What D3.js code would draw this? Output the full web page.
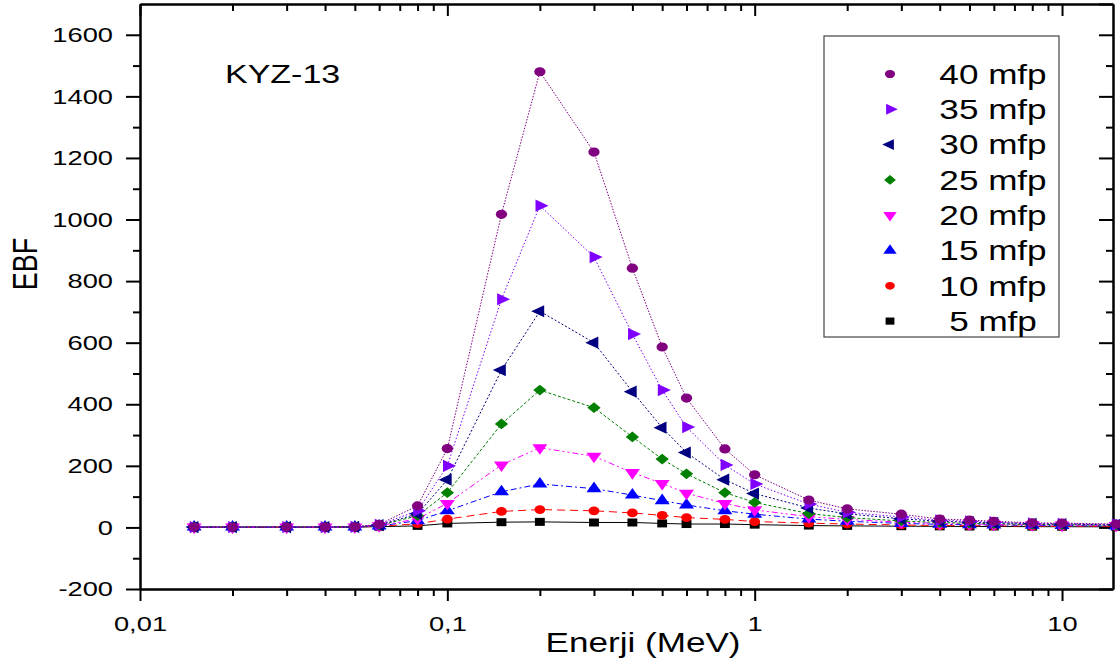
<!doctype html>
<html lang="en">
<head>
<meta charset="UTF-8">
<title>KYZ-13 EBF</title>
<script src="https://cdn.jsdelivr.net/npm/d3@7"></script>
<style>
  body { margin: 0; background: #fff; }
  text { font-family: "Liberation Sans", Arial, sans-serif; fill: #000; }
</style>
</head>
<body>
<svg width="1120" height="668"></svg>
<script>
// energies (MeV)
const energies = [0.015, 0.02, 0.03, 0.04, 0.05, 0.06, 0.08, 0.1, 0.15, 0.2, 0.3, 0.4, 0.5, 0.6, 0.8, 1, 1.5, 2, 3, 4, 5, 6, 8, 10, 15];

// EBF values per penetration depth
const ebf5  = [1, 1, 1, 1, 1.2, 2.5, 5, 13, 17, 18, 16, 16, 13, 11, 11, 9, 6, 5, 4, 3.5, 3, 3, 2.5, 2.2, 2];
const ebf10 = [1, 1, 1, 1, 1.3, 3.5, 12, 27, 52, 58, 54, 47, 39, 32, 26, 19, 14, 11, 8, 6, 5.5, 5, 4.5, 4, 3.5];
const ebf15 = [1, 1, 1, 1, 1.4, 4.5, 22, 54, 116, 141, 126, 105, 87, 73, 54, 43, 27, 20, 13, 10, 9, 8, 7, 6, 5];
const ebf20 = [1, 1, 1, 1, 1.5, 5.5, 28, 78, 203, 259, 231, 178, 143, 111, 78, 57, 35, 26, 17, 13, 11, 10, 8.5, 7.5, 6];
const ebf25 = [1, 1, 1, 1, 1.6, 6.5, 38, 113, 336, 446, 389, 294, 222, 174, 113, 81, 45, 32, 21, 16, 13, 12, 10, 9, 7];
const ebf30 = [1, 1, 1, 1, 1.7, 7.5, 44, 155, 511, 702, 600, 441, 324, 243, 155, 110, 63, 44, 28, 20, 17, 15, 12, 11, 8.5];
const ebf35 = [1, 1, 1, 1, 1.8, 8.5, 54, 200, 741, 1045, 878, 628, 446, 326, 203, 141, 76, 49, 34, 23, 20, 17, 13, 12, 9.5];
const ebf40 = [1, 1, 1, 1, 2, 10, 70, 256, 1017, 1480, 1219, 842, 586, 420, 255, 171, 89, 60, 43, 27, 24, 20, 15, 14, 11];

const seriesNames = ["5 mfp", "10 mfp", "15 mfp", "20 mfp", "25 mfp", "30 mfp", "35 mfp", "40 mfp"];
const seriesValues = [ebf5, ebf10, ebf15, ebf20, ebf25, ebf30, ebf35, ebf40];

const yTicks = [-200, 0, 200, 400, 600, 800, 1000, 1200, 1400, 1600];
const xTicks = [0.01, 0.1, 1, 10];
const xTickLabels = ["0,01", "0,1", "1", "10"];

// styles
const colors = ["#000000", "#ff0000", "#0000ff", "#ff00ff", "#008000", "#000080", "#8000ff", "#800080"];
const dashes = ["none", "8,5", "6,3,2,3", "6,3,2,3,2,3", "3,2", "2,2", "1.5,2", "1.5,1.5"];
const shapes = [
  { type: d3.symbolSquare, size: 64, rot: 0 },
  { type: d3.symbolCircle, size: 60, rot: 0 },
  { type: d3.symbolTriangle, size: 64, rot: 0 },
  { type: d3.symbolTriangle, size: 64, rot: 180 },
  { type: d3.symbolSquare, size: 58, rot: 45 },
  { type: d3.symbolTriangle, size: 64, rot: -90 },
  { type: d3.symbolTriangle, size: 64, rot: 90 },
  { type: d3.symbolCircle, size: 66, rot: 0 }
];
const SX = 1.3; // horizontal stretch of the original picture

const svg = d3.select("svg");
const mLeft = 140, mRight = 1113, mTop = 4, mBottom = 589;

const x = d3.scaleLog().domain([0.01, 14.65]).range([mLeft, mRight]);
const y = d3.scaleLinear().domain([-200, 1700]).range([mBottom, mTop]);

// minor ticks
const xMinor = [];
[0.01, 0.1, 1, 10].forEach(d => {
  for (let k = 2; k <= 9; k++) { if (d * k <= 14.65) xMinor.push(d * k); }
});
const yMinor = d3.range(-100, 1700, 200);

function styleAxis(g) {
  g.select(".domain").attr("stroke-width", 2);
  g.selectAll(".tick line").attr("stroke-width", 2);
}

// bottom axis
svg.append("g").attr("transform", `translate(0,${mBottom})`)
  .call(d3.axisBottom(x).tickValues(xMinor).tickSize(7).tickFormat("").tickSizeOuter(0))
  .call(styleAxis);
const bx = svg.append("g").attr("transform", `translate(0,${mBottom})`)
  .call(d3.axisBottom(x).tickValues(xTicks).tickSize(12).tickPadding(15)
    .tickFormat((d, i) => xTickLabels[i]).tickSizeOuter(0))
  .call(styleAxis);
bx.selectAll("text").attr("font-size", 21).attr("transform", `scale(${SX},1)`)
  .attr("font-family", "Liberation Sans, Arial, sans-serif");

// top axis (inward ticks)
svg.append("g").attr("transform", `translate(0,${mTop})`)
  .call(d3.axisBottom(x).tickValues(xMinor).tickSize(7).tickFormat("").tickSizeOuter(0))
  .call(styleAxis);
svg.append("g").attr("transform", `translate(0,${mTop})`)
  .call(d3.axisBottom(x).tickValues(xTicks).tickSize(12).tickFormat("").tickSizeOuter(0))
  .call(styleAxis);

// left axis
svg.append("g").attr("transform", `translate(${mLeft},0)`)
  .call(d3.axisLeft(y).tickValues(yMinor).tickSize(7).tickFormat("").tickSizeOuter(0))
  .call(styleAxis);
const ly = svg.append("g").attr("transform", `translate(${mLeft},0)`)
  .call(d3.axisLeft(y).tickValues(yTicks).tickSize(14).tickPadding(12).tickFormat(d => String(d)).tickSizeOuter(0))
  .call(styleAxis);
ly.selectAll("text").attr("font-size", 21).attr("transform", `scale(${SX},1)`)
  .attr("x", -27 / SX).attr("font-family", "Liberation Sans, Arial, sans-serif");

// right axis (inward ticks)
svg.append("g").attr("transform", `translate(${mRight},0)`)
  .call(d3.axisLeft(y).tickValues(yMinor).tickSize(7).tickFormat("").tickSizeOuter(0))
  .call(styleAxis);
svg.append("g").attr("transform", `translate(${mRight},0)`)
  .call(d3.axisLeft(y).tickValues(yTicks.concat([1700])).tickSize(14).tickFormat("").tickSizeOuter(0))
  .call(styleAxis);

// series
const line = d3.line().x(d => x(d[0])).y(d => y(d[1]));
seriesValues.forEach((vals, i) => {
  const pts = energies.map((e, j) => [e, vals[j]]);
  svg.append("path").datum(pts)
    .attr("fill", "none")
    .attr("stroke", colors[i])
    .attr("stroke-width", 1)
    .attr("stroke-dasharray", dashes[i])
    .attr("d", line);
  const sym = d3.symbol().type(shapes[i].type).size(shapes[i].size);
  svg.append("g").selectAll("path").data(pts).join("path")
    .attr("d", sym)
    .attr("fill", colors[i])
    .attr("transform", d => `translate(${x(d[0])},${y(d[1])}) scale(${SX * 0.95},1) rotate(${shapes[i].rot})`);
});

// text labels
svg.append("text").attr("font-size", 25)
  .attr("transform", `translate(225,83) scale(1.36,1)`)
  .text("KYZ-13");

svg.append("text").attr("font-size", 27).attr("text-anchor", "middle")
  .attr("transform", `translate(643,652) scale(${SX},1)`)
  .text("Enerji (MeV)");

svg.append("text").attr("font-size", 27).attr("text-anchor", "middle")
  .attr("transform", `translate(37,264) scale(${SX},1) rotate(-90)`)
  .text("EBF");

// legend
const lg = svg.append("g");
lg.append("rect").attr("x", 824).attr("y", 36).attr("width", 235).attr("height", 301)
  .attr("fill", "#fff").attr("stroke", "#444").attr("stroke-width", 1.2);
const order = d3.range(seriesNames.length).reverse();
order.forEach((i, r) => {
  const cy = 74 + r * 35.3;
  const sym = d3.symbol().type(shapes[i].type).size(shapes[i].size * 0.8);
  lg.append("path").attr("d", sym).attr("fill", colors[i])
    .attr("transform", `translate(890,${cy}) scale(${SX * 0.95},1) rotate(${shapes[i].rot})`);
  lg.append("text").attr("font-size", 27).attr("text-anchor", "middle")
    .attr("dy", "0.36em")
    .attr("transform", `translate(993,${cy}) scale(${SX},1)`)
    .text(seriesNames[i]);
});
</script>
</body>
</html>
